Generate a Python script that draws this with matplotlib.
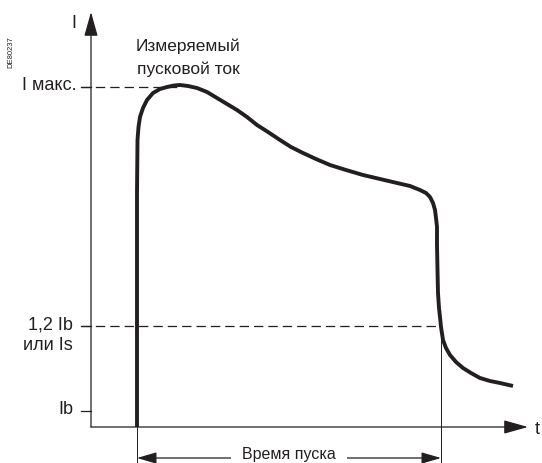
import matplotlib
matplotlib.use("Agg")
import matplotlib.pyplot as plt

# diagram units: the sheet is 542 x 463, y grows downward
FONT = ['Liberation Sans', 'DejaVu Sans']

# starting current curve
curve_t = [137, 137, 137, 137.5, 138.5, 140, 143, 147, 153, 160, 167, 174, 180, 188, 197, 207, 217,
           227, 237, 247, 257, 268, 280, 291, 303, 316, 330, 346, 363, 380, 397, 410, 420,
           426, 430, 433, 435, 436, 437, 437, 437.5, 438, 439, 440, 441, 443, 446, 450, 456,
           463, 471, 480, 490, 500, 513]
curve_i = [427, 300, 193, 140, 127, 117, 108, 100, 93, 89, 87, 85.5, 85, 86, 88, 92, 98,
           104, 110, 117, 125, 132, 140, 147, 153, 159, 165, 170, 175, 179, 183, 186, 190,
           193, 197, 203, 210, 218, 227, 245, 270, 293, 308, 317, 327, 340, 348, 355, 362,
           368, 373, 378, 381, 383, 386]

origin_t, origin_i = 91, 427
t_end, i_end = 528, 12
start_t, stop_t = 137, 441
arrow_i = 458

level_names = ['I макс.', '1,2 Ib\nили Is', 'Ib']
level_i = [87, 326, 411]
level_dash_end = [180, 441, None]

fig = plt.figure(figsize=(5.42, 4.63), dpi=100)
ax = fig.add_axes([0, 0, 1, 1])
ax.set_xlim(0, 542)
ax.set_ylim(463, 0)
ax.axis('off')

ink = '#231f20'

# axes with arrows
for tip in [(origin_t, i_end), (t_end, origin_i)]:
    ax.annotate('', xy=tip, xytext=(origin_t, origin_i),
                arrowprops=dict(arrowstyle='-|>,head_length=1.5,head_width=0.42',
                                lw=0.9, color=ink, shrinkA=0, shrinkB=0,
                                mutation_scale=10))
ax.text(74, 23, 'I', ha='center', va='center', fontsize=13, family=FONT, color=ink)
ax.text(537, 429, 't', ha='center', va='center', fontsize=13, family=FONT, color=ink)

# levels: ticks, dashed guides, labels
for name, lev, dash_end in zip(level_names, level_i, level_dash_end):
    ax.plot([origin_t - 10, origin_t], [lev, lev], color=ink, lw=0.9)
    if dash_end is not None:
        ax.plot([origin_t - 10, dash_end], [lev, lev], color=ink, lw=0.9,
                dashes=(7.5, 4))
    right = 77 if lev == level_i[0] else 73
    for k, line in enumerate(name.split('\n')):
        ax.text(right, lev + k * 21 - 1, line, ha='right', va='center',
                fontsize=13, family=FONT, color=ink)

# curve
ax.plot(curve_t, curve_i, color=ink, lw=2.8, solid_joinstyle='round',
        solid_capstyle='butt')

# start time markers
ax.plot([start_t, start_t], [origin_i, 463], color=ink, lw=0.7)
ax.plot([stop_t, stop_t], [level_i[1], 463], color=ink, lw=0.7)
ax.annotate('', xy=(start_t, arrow_i), xytext=(stop_t, arrow_i),
            arrowprops=dict(arrowstyle='<|-|>,head_length=1.2,head_width=0.35',
                            lw=0.9, color=ink, shrinkA=0, shrinkB=0,
                            mutation_scale=10))
ax.text((start_t + stop_t) / 2, 455, 'Время пуска', ha='center', va='center',
        fontsize=11.5, family=FONT, color=ink,
        bbox=dict(facecolor='white', edgecolor='none', pad=8))

ax.text(188, 46, 'Измеряемый', ha='center', va='center', fontsize=12.5,
        family=FONT, color=ink)
ax.text(188, 69, 'пусковой ток', ha='center', va='center', fontsize=12.5,
        family=FONT, color=ink)
ax.text(11, 52, 'DE80237', ha='center', va='center', rotation=90, fontsize=5.5,
        family=FONT, color=ink)

fig.savefig('out.png', dpi=100)
